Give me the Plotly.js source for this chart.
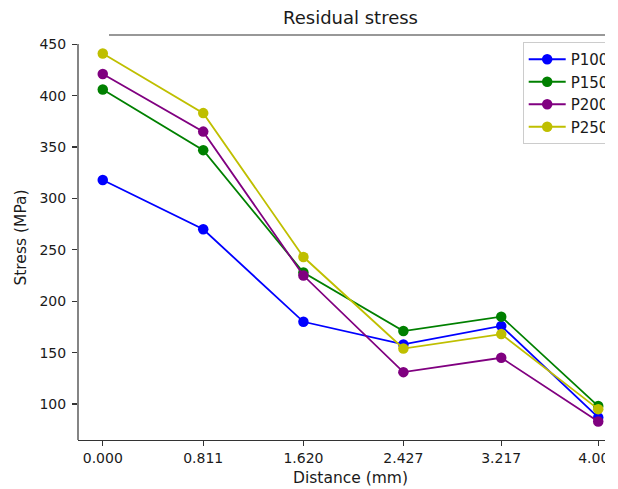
<!DOCTYPE html>
<html>
<head>
<meta charset="utf-8">
<script src="https://cdn.plot.ly/plotly-3.0.1.min.js"></script>
<style>
  html, body { margin: 0; padding: 0; background: #ffffff; overflow: hidden; }
  #clip { width: 605px; height: 489px; overflow: hidden; position: relative; background: #fff; }
  #chart { width: 640px; height: 489px; }
</style>
</head>
<body>
<div id="clip"><div id="chart"></div></div>
<script>
// Data
const distances = [0.0, 0.811, 1.620, 2.427, 3.217, 4.0];
const tickLabels = ["0.000", "0.811", "1.620", "2.427", "3.217", "4.000"];
const seriesNames = ["P100", "P150", "P200", "P250"];
const p100 = [318, 270, 180, 158, 176, 87];
const p150 = [406, 347, 228, 171, 185, 98];
const p200 = [421, 365, 225, 131, 145, 83];
const p250 = [441, 383, 243, 154, 168, 95];
const yTicks = [100, 150, 200, 250, 300, 350, 400, 450];

const colors = ["#0000ff", "#008000", "#800080", "#bfbf00"];
const values = [p100, p150, p200, p250];

const traces = values.map((v, i) => ({
  type: "scatter",
  mode: "lines+markers",
  x: distances,
  y: v,
  name: seriesNames[i],
  line: { color: colors[i], width: 1.8 },
  marker: { color: colors[i], size: 10.5 }
}));

const font = "DejaVu Sans, sans-serif";
const axisColor = "#333333";
const textColor = "#1a1a1a";

const layout = {
  width: 640,
  height: 489,
  margin: { l: 78, r: 17, t: 35, b: 49 },
  paper_bgcolor: "#ffffff",
  plot_bgcolor: "#ffffff",
  font: { family: font, size: 14, color: textColor },
  title: {
    text: "Residual stress",
    font: { family: font, size: 18, color: textColor },
    x: 0.5, xref: "paper", xanchor: "center",
    y: 1 - 18 / 489, yref: "container", yanchor: "middle"
  },
  xaxis: {
    range: [-0.2, 4.2],
    tickmode: "array",
    tickvals: distances,
    ticktext: tickLabels,
    ticks: "outside",
    ticklen: 5,
    tickwidth: 1.1,
    tickcolor: axisColor,
    showline: true,
    linecolor: axisColor,
    linewidth: 1.2,
    showgrid: false,
    zeroline: false,
    tickfont: { family: font, size: 14, color: textColor },
    title: { text: "Distance (mm)", font: { family: font, size: 15.5, color: textColor }, standoff: 7 }
  },
  yaxis: {
    range: [65, 459],
    tickmode: "array",
    tickvals: yTicks,
    ticks: "outside",
    ticklen: 5,
    tickwidth: 1.1,
    tickcolor: axisColor,
    showline: false,
    showgrid: false,
    zeroline: false,
    ticklabelstandoff: 3,
    tickfont: { family: font, size: 14, color: textColor },
    title: { text: "Stress (MPa)", font: { family: font, size: 15.5, color: textColor }, standoff: 9 }
  },
  shapes: [
    { type: "line", xref: "paper", yref: "paper", x0: 0, x1: 0, y0: 0, y1: (440 - 44) / 405,
      line: { color: axisColor, width: 1.2 } },
    { type: "line", xref: "paper", yref: "paper", x0: (109 - 78) / 545, x1: 1, y0: 1, y1: 1,
      line: { color: axisColor, width: 1.2 } }
  ],
  legend: {
    x: (522.7 - 78) / 545,
    xanchor: "left",
    y: 1 - (42 - 35) / 405,
    yanchor: "top",
    bgcolor: "#ffffff",
    bordercolor: "#cccccc",
    borderwidth: 1,
    font: { family: font, size: 15, color: textColor },
    itemwidth: 37
  },
  showlegend: true
};

Plotly.newPlot("chart", traces, layout, { displayModeBar: false, staticPlot: true });
</script>
</body>
</html>
